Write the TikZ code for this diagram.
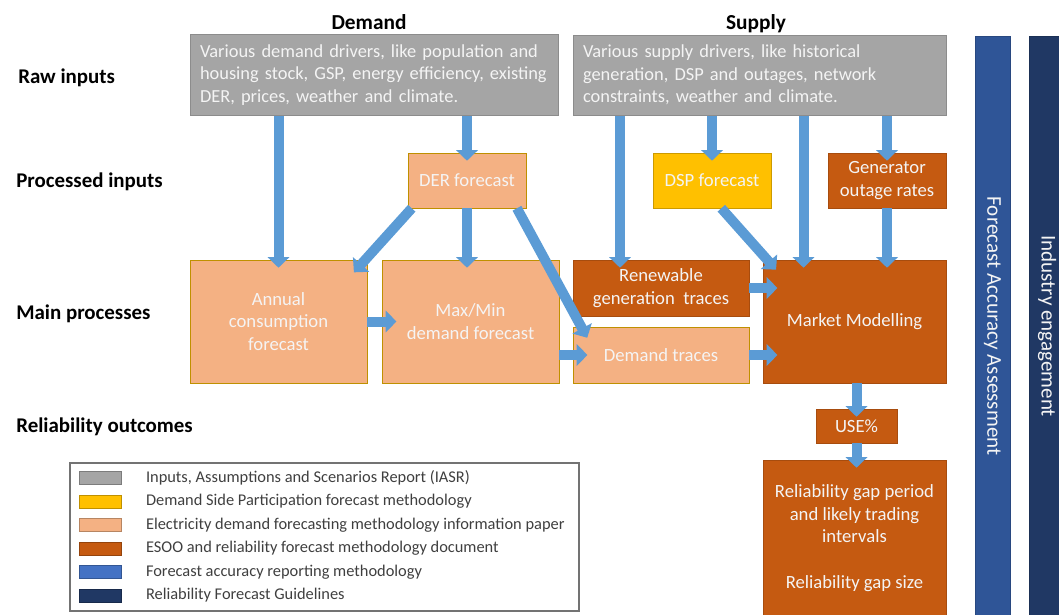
\documentclass[tikz,border=0pt]{standalone}
\usepackage{fontspec}
\setmainfont{Carlito}
\usetikzlibrary{positioning,arrows.meta}

\definecolor{iasrgrey}{HTML}{A5A5A5}
\definecolor{dspyellow}{HTML}{FFC000}
\definecolor{edfpeach}{HTML}{F4B183}
\definecolor{esooorange}{HTML}{C55A11}
\definecolor{farblue}{HTML}{4472C4}
\definecolor{rfgnavy}{HTML}{203864}
\definecolor{faablue}{HTML}{2F5597}
\definecolor{flowblue}{HTML}{5B9BD5}
\definecolor{boxtext}{HTML}{F4F4F4}
\definecolor{legtextgrey}{HTML}{3F3F3F}

\begin{document}
\begin{tikzpicture}[x=0.75pt, y=-0.75pt,
  box/.style={draw, inner sep=2pt, align=center, text=boxtext, font=\fontsize{14}{17}\selectfont},
  iasr/.style={box, fill=iasrgrey, draw=iasrgrey!85!black, align=left, inner sep=7.5pt, font=\fontsize{13.8}{17}\selectfont},
  dsp/.style={box, fill=dspyellow, draw=dspyellow!80!black},
  edf/.style={box, fill=edfpeach, draw=dspyellow!75!black},
  esoo/.style={box, fill=esooorange, draw=esooorange!85!black},
  bar/.style={box, draw=#1!85!black, fill=#1, rotate=-90, minimum height=26.25pt, font=\fontsize{15.8}{18}\selectfont},
  flow/.style={draw=flowblue, line width=7.5pt, shorten >=-6pt, -{Triangle[length=8pt,width=16pt]}},
  rowlabel/.style={anchor=west, inner sep=0pt, font=\bfseries\fontsize{15.7}{18}\selectfont},
  heading/.style={anchor=base, inner sep=0pt, font=\bfseries\fontsize{16}{18}\selectfont},
  swatch/.style={draw=#1!75!black, fill=#1, minimum width=31.5pt, minimum height=10pt, inner sep=0pt},
  legtext/.style={anchor=west, inner sep=0pt, text=legtextgrey, font=\fontsize{12.3}{14}\selectfont},
]
\useasboundingbox (0,0) rectangle (1059,614);

% Headings and row labels
\node[heading] (demandhead) at (369,29) {Demand};
\node[heading] (supplyhead) at (756,29) {Supply};
\node[rowlabel] (rawlbl) at (18,78) {Raw inputs};
\node[rowlabel] (proclbl) at (16,182) {Processed inputs};
\node[rowlabel] (mainlbl) at (16,314) {Main processes};
\node[rowlabel] (rellbl) at (16,427) {Reliability outcomes};

% Raw inputs
\node[iasr, minimum width=276pt, minimum height=57pt, text width=261pt] (dembox) at (374,75)
  {Various demand drivers, like population and housing stock, GSP, energy efficiency, existing DER, prices, weather and climate.};
\node[iasr, minimum width=279.75pt, minimum height=57pt, text width=264.75pt] (supbox) at (759.5,75)
  {Various supply drivers, like historical\\generation, DSP and outages, network\\constraints, weather and climate.};

% Processed inputs
\node[edf, minimum width=88.5pt, minimum height=41.25pt] (der) at (467,180.5) {DER forecast};
\node[dsp, minimum width=88.5pt, minimum height=41.25pt] (dspf) at (712,180.5) {DSP forecast};
\node[esoo, minimum width=88.5pt, minimum height=41.25pt] (genout) at (887,180.5) {Generator\\outage rates};

% Main processes
\node[edf, minimum width=132.75pt, minimum height=92.25pt] (annual) at (278.5,321.5) {Annual\\consumption\\forecast};
\node[edf, minimum width=132.75pt, minimum height=92.25pt] (maxmin) at (470.5,321.5) {Max/Min\\demand forecast};
\node[esoo, minimum width=132pt, minimum height=42pt] (renew) at (661,288) {Renewable\\generation\ \ traces};
\node[edf, minimum width=132pt, minimum height=42pt] (demtr) at (661,355) {Demand traces};
\node[esoo, minimum width=137.25pt, minimum height=92.25pt] (market) at (854.5,321.5) {Market Modelling};

% Reliability outcomes
\node[esoo, minimum width=60.75pt, minimum height=25.5pt] (usep) at (856.5,426) {USE\%};
\node[esoo, minimum width=137.25pt, minimum height=117pt] (relgap) at (854.5,538)
  {Reliability gap period\\and likely trading\\intervals\\[17pt]Reliability gap size};

% Side bars
\node[bar=faablue, minimum width=434.25pt] (faa) at (992.5,326) {Forecast Accuracy Assessment};
\node[bar=rfgnavy, minimum width=434.25pt] (indeng) at (1047,326) {Industry engagement};

% Edges
\draw[flow] (dembox.south -| annual) -- (annual.north);
\draw[flow] (dembox.south -| der) -- (der.north);
\draw[flow] (der.south) -- (der.south |- maxmin.north);
\draw[flow] ([xshift=3pt]der.south west) -- ([xshift=-6pt,yshift=-5pt]annual.north east);
\draw[flow] ([xshift=-7pt]der.south east) -- ([xshift=8pt,yshift=-3pt]demtr.north west);
\draw[flow, shorten >=-11pt] (annual.east) -- (annual.east -| maxmin.west);
\draw[flow, shorten >=-11pt] (demtr.west -| maxmin.east) -- (demtr.west);
\draw[flow] ([xshift=-30.75pt]renew.north |- supbox.south) -- ([xshift=-30.75pt]renew.north);
\draw[flow] (supbox.south -| dspf) -- (dspf.north);
\draw[flow] ([xshift=-38.25pt]market.north |- supbox.south) -- ([xshift=-38.25pt]market.north);
\draw[flow] (supbox.south -| genout) -- (genout.north);
\draw[flow] (genout.south) -- (genout.south |- market.north);
\draw[flow] ([xshift=7pt]dspf.south) -- ([xshift=6pt,yshift=-3pt]market.north west);
\draw[flow, shorten >=-11pt] (renew.east) -- (renew.east -| market.west);
\draw[flow, shorten >=-11pt] (demtr.east) -- (demtr.east -| market.west);
\draw[flow] (market.south -| usep) -- (usep.north);
\draw[flow] (usep.south) -- (usep.south |- relgap.north);

% Legend
\node[draw=black!55, line width=1.2pt, minimum width=381.75pt, minimum height=111pt, inner sep=0pt] (legend) at (324.5,537) {};
\foreach \col/\txt [count=\i] in {iasrgrey/{Inputs, Assumptions and Scenarios Report (IASR)},
    dspyellow/{Demand Side Participation forecast methodology},
    edfpeach/{Electricity demand forecasting methodology information paper},
    esooorange/{ESOO and reliability forecast methodology document},
    farblue/{Forecast accuracy reporting methodology},
    rfgnavy/{Reliability Forecast Guidelines}}
{
  \node[swatch=\col] (sw\i) at (100.5,{478+23.5*(\i-1)}) {};
  \node[legtext, right=18pt of sw\i] (lt\i) {\txt};
}
\end{tikzpicture}
\end{document}
